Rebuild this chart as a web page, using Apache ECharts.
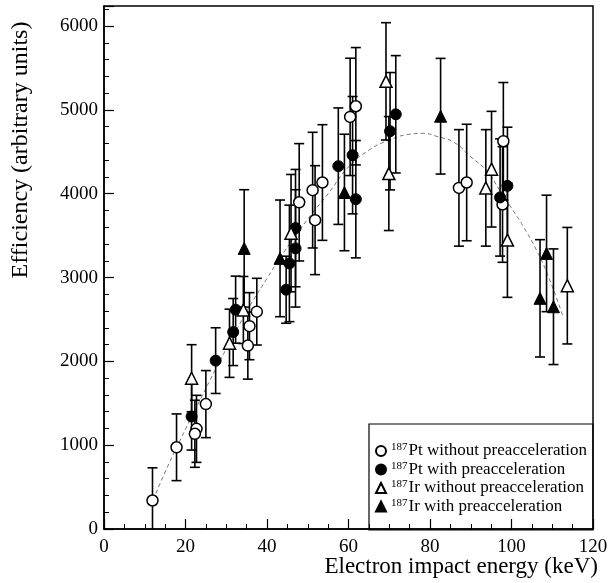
<!DOCTYPE html>
<html>
<head>
<meta charset="utf-8">
<script src="https://cdn.jsdelivr.net/npm/echarts@6/dist/echarts.min.js"></script>
<style>
  html, body { margin: 0; background: #fff; }
  #chart { width: 612px; height: 583px; }
</style>
</head>
<body>
<div id="chart"></div>
<script>
// [energy keV, efficiency, error]
const ptWithout = [
  [11.9, 340, 390], [17.8, 975, 398], [22.7, 1195, 400], [22.3, 1136, 400],
  [25.0, 1490, 400], [35.3, 2188, 400], [35.7, 2420, 400], [37.5, 2593, 398],
  [47.9, 3898, 700], [51.2, 4043, 690], [53.6, 4134, 690], [51.8, 3685, 650],
  [60.4, 4917, 700], [61.8, 5044, 700], [87.1, 4070, 695], [89.0, 4134, 695],
  [98.0, 4627, 700], [97.8, 3872, 690]
];
const ptWith = [
  [21.5, 1342, 400], [27.4, 2009, 392], [31.7, 2350, 400], [32.3, 2617, 400],
  [44.7, 2855, 400], [45.5, 3169, 695], [47.0, 3348, 700], [47.0, 3590, 700],
  [57.5, 4329, 695], [61.0, 4460, 700], [61.8, 3935, 700], [70.2, 4746, 700],
  [71.6, 4948, 700], [99.0, 4094, 700], [97.2, 3956, 700]
];
const irWithout = [
  [21.5, 1799, 400], [30.8, 2216, 407], [34.2, 2613, 400], [45.9, 3530, 700],
  [69.2, 5341, 700], [69.9, 4241, 680], [93.7, 4070, 695], [95.1, 4293, 690],
  [99.0, 3447, 683], [113.7, 2903, 695]
];
const irWith = [
  [34.4, 3348, 700], [43.2, 3229, 696], [59.0, 4015, 695], [82.6, 4925, 690],
  [107.0, 2752, 700], [108.6, 3288, 695], [110.3, 2652, 690]
];
// fitted curve
const fitCurve = [
  [12.1, 349], [15, 680], [18, 990], [21, 1290], [24, 1580], [27, 1870],
  [30, 2150], [33, 2420], [36, 2680], [40, 2990], [43, 3220], [47, 3500],
  [51, 3760], [55, 4000], [60, 4320], [65, 4520], [70, 4640], [75, 4710],
  [78, 4720], [82, 4680], [86, 4610], [90, 4440], [94, 4270], [97, 4050],
  [100, 3830], [103, 3600], [106, 3340], [109, 3020], [112.6, 2540]
];

const FONT = '"Liberation Serif", "DejaVu Serif", serif';
const chart = echarts.init(document.getElementById('chart'));

function errorBars(name, data) {
  return {
    type: 'custom',
    name: name + ' err',
    silent: true,
    z: 2,
    encode: { x: 0, y: 1 },
    data: data,
    renderItem(params, api) {
      const x = api.value(0), y = api.value(1), e = api.value(2);
      const lowClipped = y - e < 0;
      const top = api.coord([x, y + e]);
      const bot = api.coord([x, Math.max(y - e, 0)]);
      const w = 5;
      const style = { stroke: '#000', lineWidth: 1.6 };
      const kids = [
        { type: 'line', shape: { x1: top[0], y1: top[1], x2: bot[0], y2: bot[1] }, style },
        { type: 'line', shape: { x1: top[0] - w, y1: top[1], x2: top[0] + w, y2: top[1] }, style }
      ];
      if (!lowClipped) {
        kids.push({ type: 'line', shape: { x1: bot[0] - w, y1: bot[1], x2: bot[0] + w, y2: bot[1] }, style });
      }
      return { type: 'group', children: kids };
    }
  };
}

function points(name, data, symbol, filled) {
  return {
    type: 'scatter',
    name: name,
    symbol: symbol,
    symbolSize: symbol === 'triangle' ? 12 : 11,
    z: 3,
    data: data.map(d => [d[0], d[1]]),
    itemStyle: filled
      ? { color: '#000', borderColor: '#000', borderWidth: 1, opacity: 1 }
      : { color: '#fff', borderColor: '#000', borderWidth: 1.5, opacity: 1 }
  };
}

const names = [
  'Pt without preacceleration',
  'Pt with preacceleration',
  'Ir without preacceleration',
  'Ir with preacceleration'
];

chart.setOption({
  animation: false,
  grid: {
    left: 104, right: 19, top: 6, bottom: 54,
    show: true, borderColor: '#000', borderWidth: 1.5, backgroundColor: 'transparent'
  },
  xAxis: {
    type: 'value', min: 0, max: 120, interval: 20,
    axisLine: { lineStyle: { color: '#000', width: 1.5 } },
    axisTick: { inside: true, length: 10, lineStyle: { color: '#000', width: 1.2 } },
    minorTick: { show: true, splitNumber: 4, length: 5, lineStyle: { color: '#000', width: 1 } },
    splitLine: { show: false },
    axisLabel: { color: '#000', fontFamily: FONT, fontSize: 19, margin: 9 }
  },
  yAxis: {
    type: 'value', min: 0, max: 6240, interval: 1000,
    axisLine: { lineStyle: { color: '#000', width: 1.5 } },
    axisTick: { inside: true, length: 10, lineStyle: { color: '#000', width: 1.2 } },
    minorTick: { show: true, splitNumber: 5, length: 5, lineStyle: { color: '#000', width: 1 } },
    splitLine: { show: false },
    axisLabel: {
      color: '#000', fontFamily: FONT, fontSize: 19, margin: 6, showMaxLabel: false,
      formatter: v => (v % 1000 === 0 ? String(v) : '')
    }
  },
  legend: {
    orient: 'vertical',
    left: 370, top: 437,
    itemWidth: 10, itemHeight: 10, itemGap: 1,
    data: names,
    formatter: n => '{s|187}{t|' + n + '}',
    textStyle: {
      fontFamily: FONT, color: '#000',
      rich: {
        s: { fontSize: 11, fontFamily: FONT, verticalAlign: 'top', lineHeight: 11, padding: [0, 1, 0, 0] },
        t: { fontSize: 17, fontFamily: FONT, lineHeight: 18 }
      }
    }
  },
  graphic: [
    {
      type: 'rect', z: 10, silent: true,
      shape: { x: 369, y: 424, width: 224, height: 106 },
      style: { fill: 'none', stroke: '#000', lineWidth: 1.2 }
    },
    {
      type: 'text', x: 21, y: 150, rotation: Math.PI / 2,
      style: { text: 'Efficiency (arbitrary units)', font: '24px ' + FONT, fill: '#000', align: 'center', verticalAlign: 'middle' }
    },
    {
      type: 'text', x: 598, y: 567,
      style: { text: 'Electron impact energy (keV)', font: '23px ' + FONT, fill: '#000', align: 'right', verticalAlign: 'middle' }
    }
  ],
  series: [
    {
      type: 'line', name: 'fit', data: fitCurve, smooth: true, showSymbol: false,
      silent: true, z: 1,
      lineStyle: { color: '#555', width: 0.8, type: [4, 3] }
    },
    errorBars(names[0], ptWithout),
    errorBars(names[1], ptWith),
    errorBars(names[2], irWithout),
    errorBars(names[3], irWith),
    points(names[0], ptWithout, 'circle', false),
    points(names[1], ptWith, 'circle', true),
    points(names[2], irWithout, 'triangle', false),
    points(names[3], irWith, 'triangle', true)
  ]
});
</script>
</body>
</html>
